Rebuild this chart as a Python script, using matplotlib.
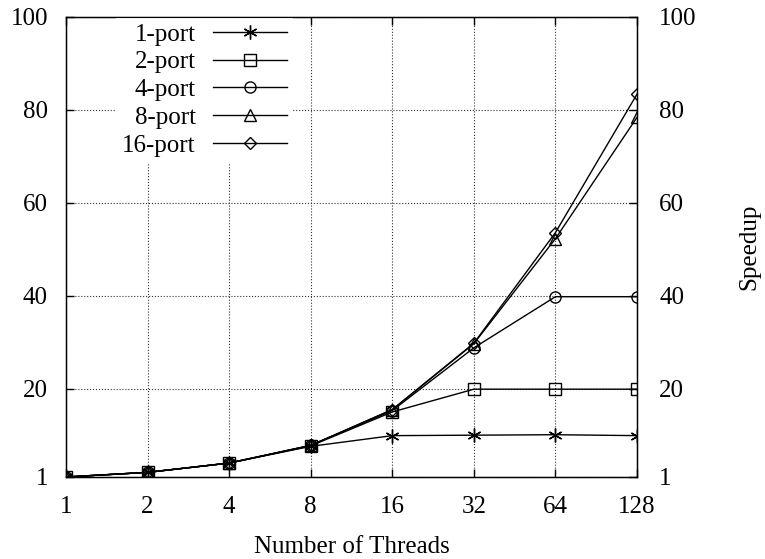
import matplotlib
matplotlib.use('Agg')
import matplotlib.pyplot as plt
from matplotlib.ticker import FixedLocator, FixedFormatter, NullLocator

plt.rcParams['font.family'] = ['Liberation Serif', 'DejaVu Serif']

# data
threads = [1, 2, 4, 8, 16, 32, 64, 128]
port1 = [1, 2.0, 4.0, 7.6, 9.9, 10.0, 10.1, 9.9]
port2 = [1, 2.0, 4.0, 7.7, 15.0, 19.9, 19.9, 19.9]
port4 = [1, 2.0, 4.0, 7.8, 15.3, 28.8, 39.8, 39.8]
port8 = [1, 2.0, 4.0, 7.8, 15.5, 29.7, 52.3, 78.4]
port16 = [1, 2.0, 4.0, 7.8, 15.5, 29.8, 53.6, 83.4]
series_labels = ['1-port', '2-port', '4-port', '8-port', '16-port']
yticks = [1, 20, 40, 60, 80, 100]

FS = 18

fig = plt.figure(figsize=(7.65, 5.59), dpi=100)
ax = fig.add_axes([0.0863, 0.1467, 0.7464, 0.8229])

# marker styles, gnuplot-like open symbols
asterisk = (6, 2, 0)
styles = [
    dict(marker=asterisk, markersize=10, markeredgewidth=1.0),
    dict(marker='s', markersize=8, markerfacecolor='none'),
    dict(marker='o', markersize=8, markerfacecolor='none'),
    dict(marker='^', markersize=8, markerfacecolor='none'),
    dict(marker='D', markersize=6.5, markerfacecolor='none'),
]
all_series = [port1, port2, port4, port8, port16]
for vals, lab, st in zip(all_series, series_labels, styles):
    ax.plot(threads, vals, color='black', linewidth=1.0,
            markeredgecolor='black', label=lab, **st)

ax.set_xscale('log', base=2)
ax.set_xlim(1, 128)
ax.set_ylim(1, 100)
ax.xaxis.set_major_locator(FixedLocator(threads))
ax.xaxis.set_major_formatter(FixedFormatter([str(t) for t in threads]))
ax.xaxis.set_minor_locator(NullLocator())
ax.set_yticks(yticks)

ax.grid(True, linestyle=':', color='#333333', linewidth=0.8)
ax.tick_params(direction='in', length=6, width=1, labelsize=FS, top=True)
ax.tick_params(axis='x', pad=14)
ax.tick_params(axis='y', pad=13)
for s in ax.spines.values():
    s.set_linewidth(1.0)

ax.set_xlabel('Number of Threads', fontsize=FS, labelpad=12.5)

# right-hand axis repeats the scale
ax2 = ax.twinx()
ax2.set_ylim(1, 100)
ax2.set_yticks(yticks)
ax2.tick_params(direction='in', length=6, width=1, labelsize=FS, pad=16)
ax2.set_ylabel('Speedup', fontsize=FS, labelpad=30)

leg = ax.legend(loc='upper right', bbox_to_anchor=(0.3975, 1.0),
                markerfirst=False, frameon=True, fancybox=False,
                edgecolor='none', facecolor='white', framealpha=1.0,
                fontsize=FS, handlelength=2.96, labelspacing=0.21,
                borderpad=0.25, borderaxespad=0.0, handletextpad=0.68)

fig.savefig('out.png', dpi=100)
